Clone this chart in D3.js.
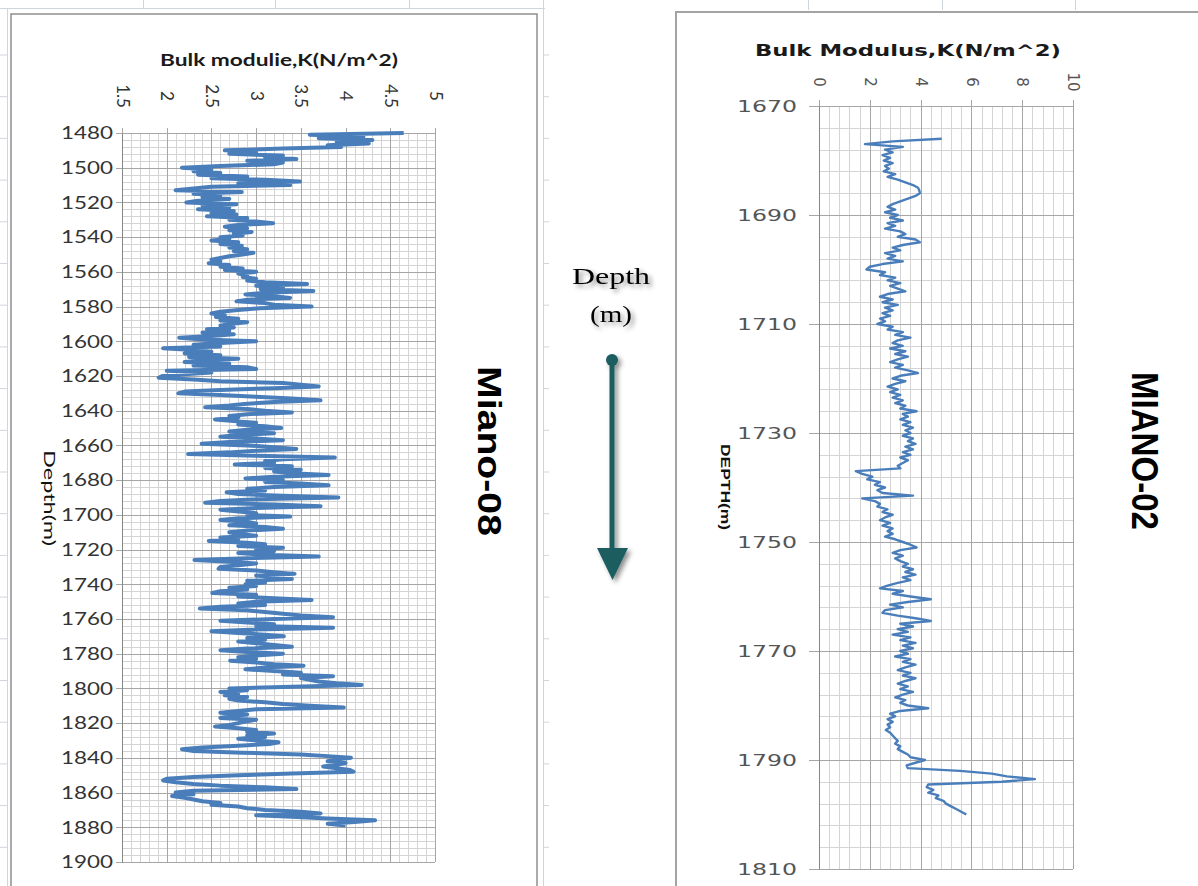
<!DOCTYPE html>
<html>
<head>
<meta charset="utf-8">
<script src="https://cdn.jsdelivr.net/npm/d3@7"></script>
<style>
  html, body { margin: 0; padding: 0; background: #fff; }
  svg { display: block; }
</style>
</head>
<body>
<div id="chart"></div>
<script>
// ---- Miano-08 (left panel), one reading per metre from 1480 m ----
const m08Start = 1480;
const m08Step = 1;
const m08Values = [
  4.65,3.6,4.2,3.7,4.3,3.9,4.26,3.8,3.95,3.3, 2.65,3.0,2.7,3.3,3.1,3.45,2.9,3.3,3.2,2.6,
  2.17,2.5,2.3,2.6,2.35,2.9,2.5,3.1,3.49,2.8, 3.38,2.5,2.3,2.1,2.84,2.3,2.6,2.4,2.7,2.35,
  2.22,2.78,2.4,2.7,2.35,2.75,2.5,2.78,2.45,2.9, 2.7,3.0,3.19,2.8,2.65,2.9,2.7,2.95,2.75,2.85,
  2.6,2.7,2.5,2.8,2.6,2.84,2.7,2.9,2.75,2.97, 2.85,2.7,2.6,2.5,2.6,2.47,2.7,2.6,2.85,2.65,
  3.0,2.8,2.9,2.85,3.0,2.9,3.1,3.57,3.0,3.3, 3.05,3.64,3.1,2.88,3.2,3.38,2.9,2.78,3.1,3.2,
  3.62,3.04,2.8,2.6,2.5,2.65,2.55,2.8,2.6,2.9, 2.7,2.6,2.75,2.45,2.7,2.4,2.75,2.5,2.14,2.4,
  3.0,2.6,2.3,2.6,1.96,2.3,2.5,2.2,2.6,2.25, 2.8,2.4,2.2,2.7,2.3,2.9,3.0,2.0,2.5,2.2,
  1.95,1.91,2.3,2.6,3.3,3.5,3.7,3.2,2.6,2.2, 2.13,2.6,3.0,3.4,3.72,3.2,2.9,2.7,2.43,2.9,
  3.1,3.4,2.9,2.7,2.8,2.54,2.75,3.0,2.8,3.1, 3.28,2.9,2.7,3.2,2.8,2.6,3.0,3.3,2.7,2.39,
  2.9,3.2,3.45,3.0,2.7,2.24,3.0,3.88,3.3,3.1, 3.2,2.76,3.4,3.1,3.5,3.2,3.4,3.81,3.2,2.88,
  3.3,3.1,3.5,3.81,3.2,2.9,3.1,2.67,2.8,3.3, 3.92,3.0,2.6,2.43,3.2,3.72,3.0,2.6,2.8,3.0,
  2.9,3.38,2.8,2.6,2.9,3.0,2.7,3.1,3.3,2.9, 2.7,2.8,3.0,2.6,2.8,2.47,2.9,3.1,2.8,3.3,
  3.0,3.2,2.8,3.1,3.7,2.9,2.31,2.7,3.0,2.8, 2.6,2.58,3.0,3.2,3.43,3.0,3.2,3.4,2.9,3.1,
  2.88,3.0,2.7,2.9,2.6,2.51,3.0,2.8,3.2,3.62, 3.0,2.8,3.1,2.6,2.37,2.9,3.1,3.3,3.5,3.86,
  3.2,2.6,2.9,3.2,3.0,3.86,3.0,2.5,2.8,3.1, 3.31,2.9,3.1,2.8,3.0,3.2,3.4,2.9,2.6,2.9,
  3.3,3.0,2.8,3.0,2.71,3.0,3.2,3.53,3.1,2.88, 3.2,3.5,3.3,3.86,3.5,3.6,3.7,3.9,4.18,3.4,
  2.7,2.9,2.6,2.8,2.65,2.9,2.7,2.8,3.1,3.3, 3.6,3.98,3.0,2.8,2.6,2.9,2.7,2.6,3.0,2.9,
  2.8,2.7,2.54,2.8,3.0,2.9,3.2,2.9,3.1,2.8, 3.0,3.25,3.15,2.8,2.4,2.17,2.3,2.84,3.5,3.8,
  4.06,3.9,3.8,4.0,3.9,3.75,3.9,4.05,4.09,3.4, 2.8,2.3,2.0,1.96,2.1,2.3,2.6,3.1,3.45,2.3,
  2.1,2.3,2.06,2.2,2.3,2.4,2.6,2.5,2.8,2.9, 3.1,3.5,3.72,3.0,3.4,3.8,4.33,4.1,3.8,4.0
];
const m08ValueTicks = [1.5, 2, 2.5, 3, 3.5, 4, 4.5, 5];
const m08DepthTicks = [1480,1500,1520,1540,1560,1580,1600,1620,1640,1660,1680,
                       1700,1720,1740,1760,1780,1800,1820,1840,1860,1880,1900];

// ---- MIANO-02 (right panel), one reading per half metre from 1676 m ----
const m02Start = 1676;
const m02Step = 0.5;
const m02Values = [
  4.83,2.9,1.81,3.3,2.6,2.9,2.5,2.8,2.55,2.9, 2.6,2.75,2.55,3.0,2.7,3.1,3.4,3.7,3.9,3.95,
  3.97,3.8,3.5,3.2,2.9,2.7,3.0,2.6,3.1,2.8, 3.3,2.7,3.0,2.6,3.2,3.4,3.1,3.8,3.97,3.3,
  2.9,3.2,2.6,3.0,2.7,3.3,2.5,2.0,1.87,2.6, 2.4,3.0,2.7,3.2,2.8,3.1,3.4,2.7,2.4,2.9,
  2.5,3.1,2.6,2.9,2.5,2.8,2.4,2.6,2.3,2.9, 2.7,3.3,3.0,3.6,3.1,2.9,3.3,2.8,3.4,3.0,
  3.5,3.1,2.8,3.3,3.0,3.5,3.9,3.2,2.9,3.4, 3.0,2.7,3.1,2.8,3.2,2.9,3.3,3.0,3.4,3.2,
  3.84,3.3,3.5,3.2,3.6,3.3,3.7,3.4,3.6,3.3, 3.7,3.5,3.8,3.4,3.7,3.3,3.6,3.2,3.5,3.3,
  3.1,3.2,1.45,1.7,2.1,1.9,2.4,2.2,2.6,2.3, 2.5,3.7,1.7,2.2,2.4,2.3,2.7,2.5,2.9,2.6,
  2.4,2.8,2.5,2.9,2.7,2.9,2.6,3.0,3.3,3.6, 3.84,3.2,2.9,3.3,3.0,3.2,3.5,3.3,3.7,3.4,
  3.8,3.3,3.6,3.1,2.7,2.4,3.3,2.9,3.6,4.4, 3.5,2.8,3.3,2.6,2.5,3.1,3.8,4.4,3.2,3.7,
  3.1,3.5,2.9,3.6,3.2,3.8,3.3,3.7,3.2,3.5, 3.0,3.6,3.3,3.8,3.4,3.1,3.6,3.3,3.8,3.4,
  3.1,3.5,3.2,3.7,3.3,3.0,3.4,3.2,3.5,4.3, 3.2,2.8,3.0,2.7,2.9,2.7,2.8,2.63,2.8,2.9,
  3.0,3.1,3.0,3.2,3.1,3.3,3.5,3.6,4.17,3.8, 3.45,3.5,5.55,6.8,7.4,8.5,7.2,4.3,4.24,4.5,
  4.3,4.7,4.6,4.9,5.0,5.2,5.4,5.6,5.8
];
const m02ValueTicks = [0, 2, 4, 6, 8, 10];
const m02DepthTicks = [1670, 1690, 1710, 1730, 1750, 1770, 1790, 1810];

const W = 1198, H = 886;
const svg = d3.select("#chart").append("svg")
  .attr("width", W).attr("height", H)
  .attr("viewBox", `0 0 ${W} ${H}`);

const defs = svg.append("defs");
const shadow = defs.append("filter").attr("id", "soft").attr("x", "-50%").attr("y", "-50%")
  .attr("width", "200%").attr("height", "200%");
shadow.append("feGaussianBlur").attr("in", "SourceAlpha").attr("stdDeviation", 2.5).attr("result", "b");
shadow.append("feOffset").attr("in", "b").attr("dx", 3).attr("dy", 3).attr("result", "o");
shadow.append("feComponentTransfer").attr("in", "o").attr("result", "s")
  .append("feFuncA").attr("type", "linear").attr("slope", 0.45);
const merge = shadow.append("feMerge");
merge.append("feMergeNode").attr("in", "s");
merge.append("feMergeNode").attr("in", "SourceGraphic");

// spreadsheet cell lines behind the charts
const sheet = svg.append("g").attr("stroke", "#cfd5df").attr("stroke-width", 1);
sheet.append("line").attr("x1", 0).attr("x2", 545).attr("y1", 8.5).attr("y2", 8.5);
sheet.append("line").attr("x1", 7.5).attr("x2", 7.5).attr("y1", 8).attr("y2", H);
sheet.append("line").attr("x1", 543.5).attr("x2", 543.5).attr("y1", 0).attr("y2", H);
sheet.selectAll(".ct").data([143, 275, 409]).join("line")
  .attr("x1", d => d + 0.5).attr("x2", d => d + 0.5).attr("y1", 0).attr("y2", 8);
sheet.selectAll(".rt").data(d3.range(55, H, 41.7)).join("line")
  .attr("x1", 0).attr("x2", 7).attr("y1", d => d).attr("y2", d => d);
sheet.selectAll(".mt").data(d3.range(55, H, 41.7)).join("line")
  .attr("x1", 544).attr("x2", 549).attr("y1", d => d).attr("y2", d => d);
sheet.selectAll(".rc").data([808, 942, 1075]).join("line")
  .attr("x1", d => d + 0.5).attr("x2", d => d + 0.5).attr("y1", 0).attr("y2", 10);

// chart frames
svg.append("rect").attr("x", 11).attr("y", 14).attr("width", 526).attr("height", 900)
  .attr("fill", "none").attr("stroke", "#8f8f8f").attr("stroke-width", 1.5);
svg.append("path").attr("d", `M676,${H + 5}V12H${W + 5}`)
  .attr("fill", "none").attr("stroke", "#a3a3a3").attr("stroke-width", 2);

function drawPanel(p) {
  const x = d3.scaleLinear().domain(p.xDomain).range(p.xRange);
  const y = d3.scaleLinear().domain(p.yDomain).range(p.yRange);
  const g = svg.append("g");
  const [y0, y1] = p.yRange;
  const [x0, x1] = p.xRange;

  const vMinor = d3.range(p.xDomain[0], p.xDomain[1] + 1e-9, p.xMinor);
  const hMinor = d3.range(p.yDomain[0], p.yDomain[1] + 1e-9, p.yMinor);
  g.append("g").attr("stroke", "#d4d4d4").attr("stroke-width", 1)
    .call(s => s.selectAll(".v").data(vMinor).join("line")
      .attr("x1", d => Math.round(x(d)) + 0.5).attr("x2", d => Math.round(x(d)) + 0.5)
      .attr("y1", y0).attr("y2", y1))
    .call(s => s.selectAll(".h").data(hMinor).join("line")
      .attr("y1", d => Math.round(y(d)) + 0.5).attr("y2", d => Math.round(y(d)) + 0.5)
      .attr("x1", x0).attr("x2", x1));
  g.append("g").attr("stroke", "#a6a6a6").attr("stroke-width", 1)
    .call(s => s.selectAll(".v").data(p.xTicks).join("line")
      .attr("x1", d => Math.round(x(d)) + 0.5).attr("x2", d => Math.round(x(d)) + 0.5)
      .attr("y1", y0 - p.topTick).attr("y2", y1))
    .call(s => s.selectAll(".h").data(p.yTicks).join("line")
      .attr("y1", d => Math.round(y(d)) + 0.5).attr("y2", d => Math.round(y(d)) + 0.5)
      .attr("x1", x0 - p.leftTick).attr("x2", x1));

  // depth axis
  const ay = g.append("g").attr("transform", `translate(${x0},0)`)
    .call(d3.axisLeft(y).tickValues(p.yTicks).tickSize(0).tickPadding(p.yPad).tickFormat(d3.format("d")));
  ay.select(".domain").attr("stroke", "#868686");
  ay.selectAll("text")
    .attr("font-family", p.tickFont).attr("font-size", p.yFontSize).attr("fill", p.tickColor)
    .attr("textLength", p.yTextLen).attr("lengthAdjust", "spacingAndGlyphs");

  // value axis on top, labels turned a quarter clockwise
  const ax = g.append("g").attr("transform", `translate(0,${y0})`)
    .call(d3.axisTop(x).tickValues(p.xTicks).tickSize(0).tickFormat(d => String(d)));
  ax.select(".domain").remove();
  ax.selectAll("text")
    .attr("x", 0).attr("y", 0).attr("dy", "0.35em")
    .attr("text-anchor", "middle")
    .attr("transform", `translate(0,${-p.xLabelOffset}) rotate(90)`)
    .attr("font-family", p.tickFont).attr("font-size", p.xFontSize).attr("fill", p.tickColor);

  const pts = p.values.map((v, i) => ({ depth: p.start + i * p.step, value: v }));
  g.append("path")
    .datum(pts)
    .attr("fill", "none")
    .attr("stroke", "#4a7ebb")
    .attr("stroke-width", p.lineWidth)
    .attr("stroke-linejoin", "round")
    .attr("d", d3.line().x(d => x(d.value)).y(d => y(d.depth)));

  // axis title
  g.append("text")
    .attr("x", p.titleX).attr("y", p.titleY)
    .attr("text-anchor", "middle")
    .attr("font-family", p.titleFont).attr("font-weight", "bold")
    .attr("font-size", p.titleSize).attr("fill", "#1a1a1a")
    .attr("textLength", p.titleLen).attr("lengthAdjust", "spacingAndGlyphs")
    .text(p.title);

  // depth label, running downwards
  g.append("text")
    .attr("transform", `translate(${p.depthLabelX},${p.depthLabelY}) rotate(90)`)
    .attr("text-anchor", "middle").attr("dy", "0.35em")
    .attr("font-family", p.depthLabelFont).attr("font-weight", p.depthLabelWeight)
    .attr("font-size", p.depthLabelSize).attr("fill", "#111")
    .attr("textLength", p.depthLabelLen).attr("lengthAdjust", "spacingAndGlyphs")
    .text(p.depthLabel);

  // well name
  g.append("text")
    .attr("transform", `translate(${p.wellX},${p.wellY}) rotate(90)`)
    .attr("text-anchor", "middle").attr("dy", "0.35em")
    .attr("font-family", "Liberation Sans, Arial, sans-serif").attr("font-weight", "bold")
    .attr("font-size", p.wellSize).attr("fill", "#000")
    .attr("textLength", p.wellLen).attr("lengthAdjust", "spacingAndGlyphs")
    .text(p.well);
}

drawPanel({
  values: m08Values, start: m08Start, step: m08Step,
  xDomain: [1.5, 5], xRange: [122, 435], xTicks: m08ValueTicks, xMinor: 0.1,
  yDomain: [1480, 1900], yRange: [133, 862], yTicks: m08DepthTicks, yMinor: 4,
  topTick: 5, leftTick: 6, yPad: 9,
  tickFont: "Lato, sans-serif", tickColor: "#333",
  yFontSize: 18, yTextLen: 52, xFontSize: 17, xLabelOffset: 37,
  lineWidth: 4,
  title: "Bulk modulie,K(N/m^2)", titleX: 279, titleY: 66, titleFont: "Lato, sans-serif",
  titleSize: 17, titleLen: 238,
  depthLabel: "Depth(m)", depthLabelX: 50, depthLabelY: 498, depthLabelFont: "Lato, sans-serif",
  depthLabelWeight: "normal", depthLabelSize: 16, depthLabelLen: 96,
  well: "Miano-08", wellX: 490, wellY: 451, wellSize: 34, wellLen: 170
});

drawPanel({
  values: m02Values, start: m02Start, step: m02Step,
  xDomain: [0, 10], xRange: [819, 1073], xTicks: m02ValueTicks, xMinor: 0.4,
  yDomain: [1670, 1810], yRange: [106, 869], yTicks: m02DepthTicks, yMinor: 4,
  topTick: 6, leftTick: 10, yPad: 22,
  tickFont: "DejaVu Sans, Verdana, sans-serif", tickColor: "#555",
  yFontSize: 16, yTextLen: 60, xFontSize: 15, xLabelOffset: 24,
  lineWidth: 2.4,
  title: "Bulk Modulus,K(N/m^2)", titleX: 908, titleY: 56, titleFont: "DejaVu Sans, Verdana, sans-serif",
  titleSize: 15, titleLen: 306,
  depthLabel: "DEPTH(m)", depthLabelX: 726, depthLabelY: 487, depthLabelFont: "Liberation Sans Narrow, Liberation Sans, sans-serif",
  depthLabelWeight: "bold", depthLabelSize: 13, depthLabelLen: 86,
  well: "MIANO-02", wellX: 1145, wellY: 451, wellSize: 36, wellLen: 158
});

// depth direction marker between the two logs
const mid = svg.append("g");
mid.append("text").attr("x", 611).attr("y", 284).attr("text-anchor", "middle")
  .attr("font-family", "Liberation Serif, Times New Roman, serif").attr("font-size", 24)
  .attr("filter", "url(#soft)").attr("textLength", 78).attr("lengthAdjust", "spacingAndGlyphs")
  .text("Depth");
mid.append("text").attr("x", 611).attr("y", 322).attr("text-anchor", "middle")
  .attr("font-family", "Liberation Serif, Times New Roman, serif").attr("font-size", 24)
  .attr("filter", "url(#soft)").attr("textLength", 42).attr("lengthAdjust", "spacingAndGlyphs")
  .text("(m)");
const arrow = mid.append("g").attr("filter", "url(#soft)").attr("fill", "#1b5d61").attr("stroke", "#1b5d61");
arrow.append("line").attr("x1", 612).attr("x2", 612).attr("y1", 360).attr("y2", 552).attr("stroke-width", 5);
arrow.append("circle").attr("cx", 612).attr("cy", 360).attr("r", 6).attr("stroke", "none");
arrow.append("path").attr("d", "M597,548L628,548L612.5,580Z").attr("stroke", "none");
</script>
</body>
</html>
